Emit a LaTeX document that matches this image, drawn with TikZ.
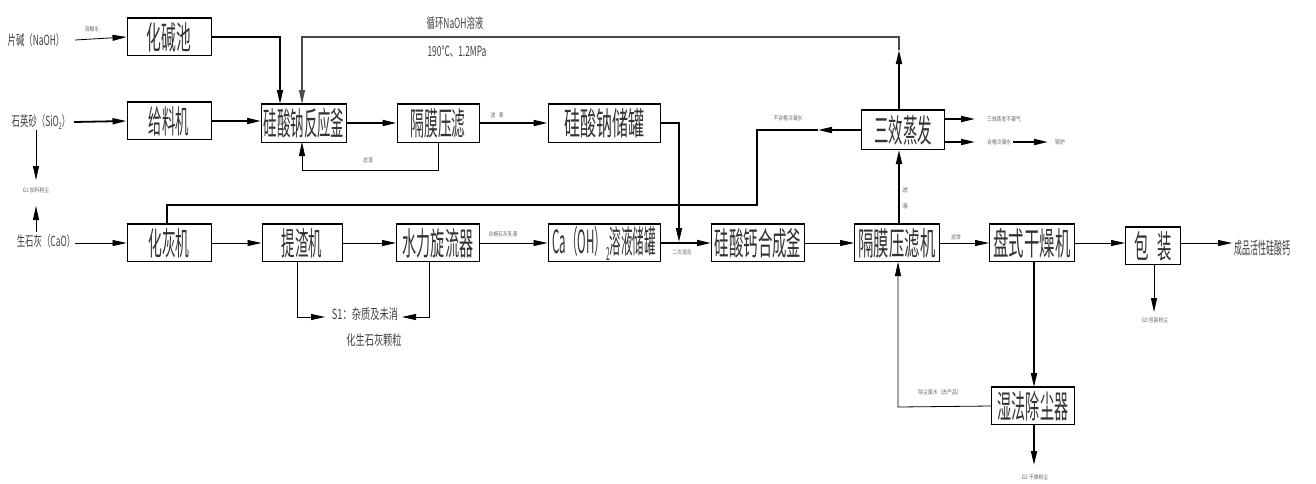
\documentclass[tikz,border=0pt]{standalone}
\usepackage{fontspec}
\usepackage{graphicx}
\newfontfamily\cjk{Noto Sans CJK SC}
\usetikzlibrary{arrows.meta}
\newcommand\nar[2]{\scalebox{#1}[1]{#2}}
\begin{document}
\begin{tikzpicture}[x=1pt,y=-1pt,
 box/.style={draw,line width=1pt,inner sep=0pt,minimum height=37pt,font=\cjk\fontsize{32}{32}\selectfont,text=black!80},
 arr/.style={-{Triangle[length=14pt,width=6pt]}},
 thn/.style={line width=0.8pt},
 thk/.style={line width=1.8pt},
 lab/.style={font=\cjk\fontsize{14}{14}\selectfont,text=black!75,inner sep=0pt},
 tiny/.style={font=\cjk\fontsize{6}{6}\selectfont,text=black!60,inner sep=0pt}]
\useasboundingbox (0,0) rectangle (1316,483);

% boxes
\node[box,minimum width=84pt] (jc) at (169,37) {\nar{0.46}{化碱池}};
\node[box,minimum width=84pt] (gl) at (169,121) {\nar{0.42}{给料机}};
\node[box,minimum width=85pt,minimum height=38pt] (fy) at (304,123) {\nar{0.42}{硅酸钠反应釜}};
\node[box,minimum width=82pt,minimum height=38pt] (gm) at (438,123) {\nar{0.43}{隔膜压滤}};
\node[box,minimum width=112pt,minimum height=38pt] (cg) at (604,123) {\nar{0.5}{硅酸钠储罐}};
\node[box,minimum width=83pt,minimum height=39pt] (sx) at (903,130) {\nar{0.45}{三效蒸发}};
\node[box,minimum width=84pt] (hh) at (169,243) {\nar{0.43}{化灰机}};
\node[box,minimum width=80pt] (tz) at (302,243) {\nar{0.42}{提渣机}};
\node[box,minimum width=83pt] (sl) at (438,243) {\nar{0.44}{水力旋流器}};
\node[box,minimum width=112pt] (ca) at (604,243) {\nar{0.36}{Ca（OH）\raisebox{-7pt}{\fontsize{18}{18}\selectfont 2}溶液储罐}};
\node[box,minimum width=93pt] (hc) at (758,243) {\nar{0.45}{硅酸钙合成釜}};
\node[box,minimum width=85pt] (gj) at (897,243) {\nar{0.48}{隔膜压滤机}};
\node[box,minimum width=85pt] (pg) at (1032,243) {\nar{0.48}{盘式干燥机}};
\node[box,minimum width=55pt] (bz) at (1153,246) {\nar{0.45}{包\hspace{18pt}装}};
\node[box,minimum width=83pt] (sc) at (1033,406) {\nar{0.44}{湿法除尘器}};
\foreach \n in {jc,gl,fy,gm,cg,sx,hh,tz,sl,ca,hc,gj,pg,bz,sc}
  \draw[line width=2pt] (\n.north west) -- (\n.north east);

% raw material labels
\node[lab] (naoh) at (36,40) {\nar{0.6}{片碱（NaOH）}};
\node[lab] (sio) at (41,122) {\nar{0.6}{石英砂（SiO\raisebox{-3pt}{\fontsize{9}{9}\selectfont 2}）}};
\node[lab] (cao) at (46,241) {\nar{0.6}{生石灰（CaO）}};
\node[tiny] (g1) at (36,190) {\nar{0.8}{G1 加料粉尘}};
\node[lab,anchor=west] (prod) at (1234,248) {\nar{0.47}{\fontsize{17}{17}\selectfont 成品活性硅酸钙}};

% top row
\draw[thn,arr] (75,40) -- (jc.west);
\node[tiny] at (92,29) {\nar{0.8}{溶解水}};
\draw[thk,arr] (jc.east) -| (280,104);
\draw[thk,arr] (74,122) -- (gl.west);
\draw[thk,arr] (gl.east) -- (gl.east -| fy.west);
\draw[thk,arr] (fy.east) -- (gm.west);
\draw[thk,arr] (gm.east) -- (cg.west);
\node[tiny] at (497,115) {\nar{0.8}{滤\hspace{4pt}液}};
\draw[thn,arr] (gm.south) -- (438,170) -- (302,170) -- (302,142);
\node[tiny] at (368,160) {\nar{0.8}{滤渣}};

% recirculation
\coordinate (rc) at (899,50);
\draw[thk,arr] (sx.north -| rc) -- (rc);
\draw[line width=1.2pt,black!70,arr] (rc) -- (899,37) -- (302,37) -- (302,104);
\node[lab] at (455,23) {\nar{0.6}{循环NaOH溶液}};
\node[lab] at (457,52) {\nar{0.6}{190℃、1.2MPa}};

% evaporator outputs
\draw[thk,arr] (sx.east |- 0,119) -- (975,119);
\node[tiny,anchor=west] at (987,119) {\nar{0.8}{三效蒸发不凝气}};
\draw[thk,arr] (sx.east |- 0,142) -- (975,142);
\node[tiny,anchor=west] (hg) at (987,142) {\nar{0.8}{合格冷凝水}};
\draw[thk,arr] (1013,142) -- (1048,142);
\node[tiny] at (1060,142) {\nar{0.8}{锅炉}};
\coordinate (bh) at (818,130);
\draw[thk,arr] (sx.west) -- (bh);
\draw[thk] (bh) -- (757,130) -- (757,205) -- (167,205) -- (167,225);
\node[tiny] at (788,118) {\nar{0.8}{不合格冷凝水}};

% sodium silicate down to synthesis
\draw[thk,arr] (cg.east) -- (679,123) -- (679,242);
\node[tiny] at (682,252) {\nar{0.8}{二次混合}};

% G1
\draw[thn,arr] (36,130) -- (36,180);
\draw[thn,arr] (36,232) -- (36,206);

% bottom row
\draw[thn,arr] (75,243) -- (hh.west);
\draw[thn,arr] (hh.east) -- (tz.west);
\draw[thn,arr] (tz.east) -- (sl.west);
\draw[thn,arr] (sl.east) -- (ca.west);
\node[tiny] at (503,234) {\nar{0.8}{合格石灰乳液}};
\draw[thk,arr] (ca.east) -- (hc.west);
\draw[thn,arr] (hc.east) -- (gj.west);
\draw[thn,arr] (gj.east) -- (pg.west);
\node[tiny] at (956,237) {\nar{0.8}{滤饼}};
\draw[thn,arr] (pg.east) -- (bz.west |- pg.east);
\draw[thn,arr] (bz.east |- pg.east) -- (1232,243);
\draw[thk,arr] (gj.north -| 899,0) -- (sx.south -| 899,0);
\node[tiny,align=center] at (905,198) {滤\\[10pt]液};

% S1
\draw[thn,arr] (297,262) -- (297,317) -- (325,317);
\draw[thn,arr] (429,262) -- (429,317) -- (402,317);
\node[lab] at (365,314) {\nar{0.66}{S1：杂质及未消}};
\node[lab] at (374,340) {\nar{0.66}{化生石灰颗粒}};

% packaging & dust
\draw[thn,arr] (1154,265) -- (1154,312);
\node[tiny] at (1155,320) {\nar{0.8}{G3 包装粉尘}};
\draw[thk,arr] (1034,262) -- (sc.north -| 1034,0);
\draw[thk,arr] (sc.south -| 1034,0) -- (1034,465);
\node[tiny] at (1035,477) {\nar{0.8}{G2 干燥粉尘}};
\draw[thn,arr] (sc.west) -- (898,407) -- (gj.south -| 898,0);
\node[tiny] at (940,392) {\nar{0.8}{除尘废水（去产品）}};
\end{tikzpicture}
\end{document}
